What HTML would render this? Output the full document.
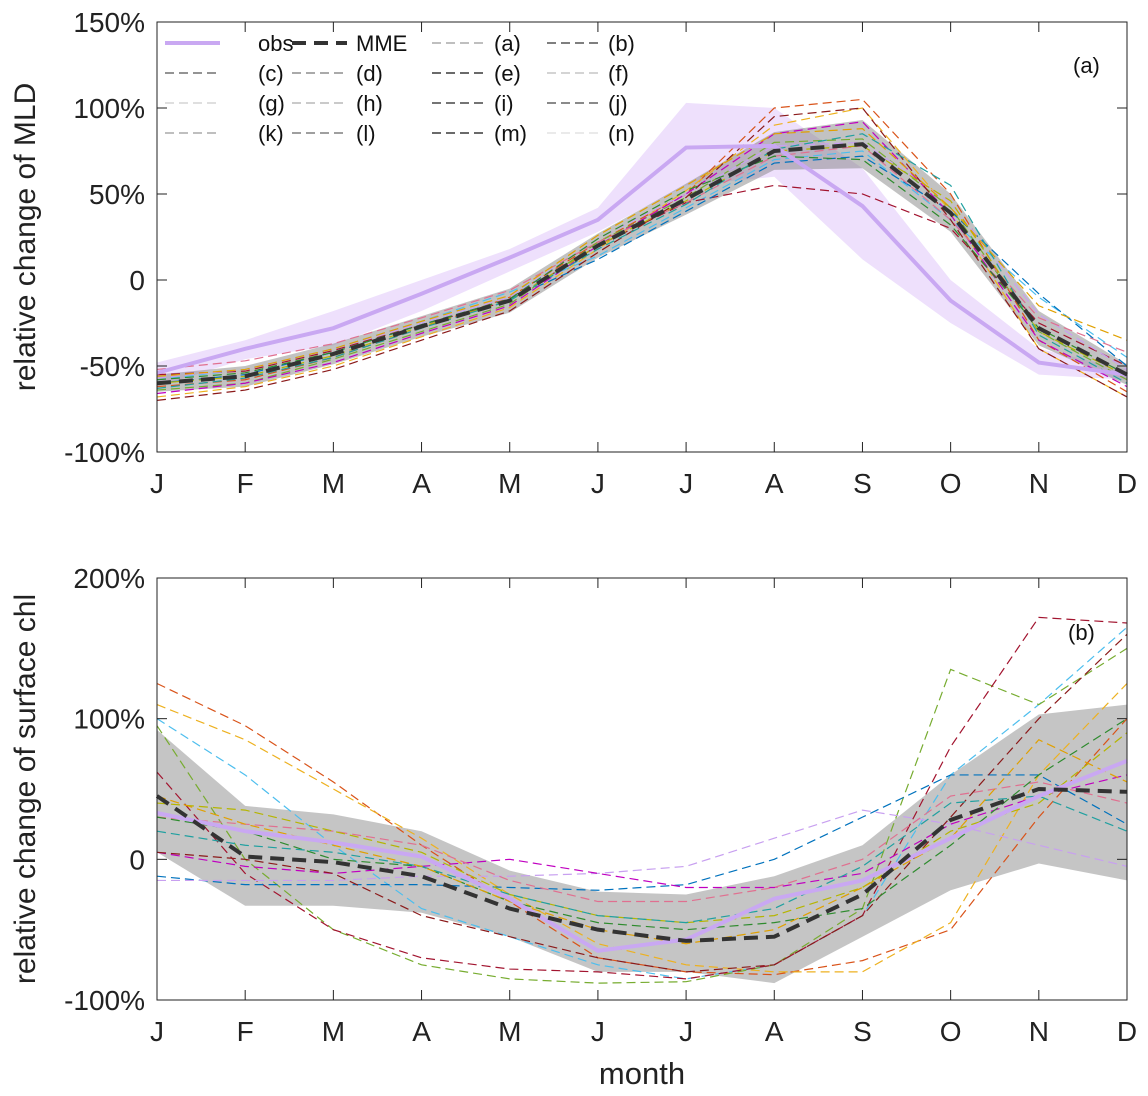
<!DOCTYPE html>
<html><head><meta charset="utf-8">
<style>
html,body{margin:0;padding:0;background:#fff;}
svg{display:block;font-family:"Liberation Sans",sans-serif;}
</style></head>
<body>
<svg id="chart" width="1148" height="1096" viewBox="0 0 1148 1096" xmlns="http://www.w3.org/2000/svg"></svg>
<script>
const months = ["J","F","M","A","M","J","J","A","S","O","N","D"];
// Panel (a) MLD
const obsA = [-54,-40,-28,-8,13,35,77,78,43,-12,-48,-55];
const obsAUpper = [-48,-35,-18,0,18,42,103,100,65,0,-40,-52];
const obsALower = [-62,-46,-38,-18,5,28,55,60,12,-25,-55,-58];
const mmeA = [-60,-56,-43,-27,-12,20,47,75,79,39,-28,-55];
const mmeAUpper = [-55,-50,-37,-21,-5,27,56,86,93,50,-18,-49];
const mmeALower = [-65,-62,-49,-33,-19,13,38,64,65,28,-38,-61];
const modelsA = [
 [-62,-58,-45,-28,-10,22,50,100,105,50,-35,-65],
 [-68,-62,-50,-33,-16,18,52,90,100,40,-40,-68],
 [-58,-52,-40,-24,-7,14,42,70,75,35,-10,-45],
 [-64,-60,-46,-30,-14,22,48,80,82,42,-30,-58],
 [-55,-53,-41,-26,-12,20,45,55,50,30,-25,-50],
 [-60,-55,-42,-26,-11,12,40,68,72,40,-8,-50],
 [-57,-52,-40,-25,-10,24,50,78,80,45,-20,-52],
 [-66,-60,-48,-31,-15,20,50,85,92,38,-35,-62],
 [-52,-47,-37,-22,-6,22,45,72,78,35,-22,-42],
 [-70,-64,-52,-35,-18,16,48,95,100,35,-40,-68],
 [-60,-56,-44,-27,-12,20,46,75,78,46,-30,-56],
 [-58,-54,-42,-26,-11,24,52,72,70,32,-28,-55],
 [-63,-57,-45,-28,-12,18,44,76,85,55,-32,-60],
 [-56,-52,-40,-24,-9,26,55,85,88,42,-15,-35]
];
// Panel (b) surface chl
const obsB = [33,20,12,2,-28,-65,-57,-28,-15,15,45,70];
const obsBUpper = [92,38,32,20,-8,-23,-25,-12,10,60,103,110];
const obsBLower = [5,-33,-33,-38,-55,-80,-80,-88,-55,-22,-3,-15];
const mmeB = [45,2,-2,-12,-35,-50,-58,-55,-25,28,50,48];
const modelsB = [
 [125,95,55,10,-30,-70,-80,-82,-72,-50,30,100],
 [110,85,50,15,-25,-60,-75,-80,-80,-45,60,125],
 [100,60,10,-35,-55,-75,-85,-75,-40,60,110,165],
 [95,0,-50,-75,-85,-88,-87,-75,-35,135,110,150],
 [62,-10,-50,-70,-78,-80,-85,-75,-40,80,172,168],
 [-12,-18,-18,-18,-20,-22,-18,0,30,60,60,25],
 [-15,-15,-15,-12,-12,-10,-5,15,35,25,10,-5],
 [5,-5,-10,-5,0,-10,-20,-20,-10,25,45,60],
 [30,25,20,10,-15,-30,-30,-20,0,45,55,40],
 [5,0,-10,-40,-55,-70,-80,-75,-40,30,100,160],
 [40,35,20,5,-25,-40,-45,-40,-20,20,40,90],
 [30,20,0,-5,-30,-45,-50,-45,-35,10,60,100],
 [20,10,5,-5,-25,-40,-45,-35,-5,40,45,20],
 [45,25,10,-5,-30,-50,-60,-50,-20,15,85,55]
];
const modelLabels = ["(a)","(b)","(c)","(d)","(e)","(f)","(g)","(h)","(i)","(j)","(k)","(l)","(m)","(n)"];
const ticksA = [150,100,50,0,-50,-100];
const ticksALabels = ["150%","100%","50%","0","-50%","-100%"];
const ticksB = [200,100,0,-100];
const ticksBLabels = ["200%","100%","0","-100%"];

const colors = ["#d95319","#edb120","#4dbeee","#77ac30","#a2142f","#0072bd","#c8a0f0","#c000c0","#e07090","#8b1a1a","#b5b500","#2e8b2e","#20a0a0","#e0a000"];
const legendGreys = ["#999","#333","#555","#777","#111","#bbb","#ccc","#aaa","#222","#444","#999","#666","#111","#ddd"];

const svg = document.getElementById('chart');
const NS = "http://www.w3.org/2000/svg";
function mk(tag, attrs, parent){const e=document.createElementNS(NS,tag);for(const k in attrs)e.setAttribute(k,attrs[k]);(parent||svg).appendChild(e);return e;}

const x0=157,x1=1127;
function xs(i){return x0+(x1-x0)*i/11;}
function yA(v){return 22+(150-v)*(430/250);}
function yB(v){return 578+(200-v)*(422/300);}
function pts(arr,ys){return arr.map((v,i)=>xs(i)+","+ys(v)).join(" ");}
function band(up,lo,ys){return up.map((v,i)=>xs(i)+","+ys(v)).concat(lo.map((v,i)=>xs(i)+","+ys(v)).reverse()).join(" ");}

function panel(name, ys, top, bottom, ticks, tlabels, obs, obsU, obsL, mme, mmeU, mmeL, models, bandColor, obsBandColor, ylabel, tag, tagX, tagY){
  const g=mk('g',{});
  
  
  if(obsBandColor){
    const p=mk('polygon',{points:band(obsU,obsL,ys),fill:obsBandColor,stroke:'none'},g);
    
    
  }
  const mb=mk('polygon',{points:band(mmeU,mmeL,ys),fill:bandColor,stroke:'none'},g);
  
  
  models.forEach((m,k)=>{
    const l=mk('polyline',{points:pts(m,ys),fill:'none',stroke:colors[k],'stroke-width':1.2,'stroke-dasharray':'9,5'},g);
    
    
  });
  const o=mk('polyline',{points:pts(obs,ys),fill:'none',stroke:'#c9a8f2','stroke-width':4},g);
  
  
  const mm=mk('polyline',{points:pts(mme,ys),fill:'none',stroke:'#333','stroke-width':4,'stroke-dasharray':'14,8'},g);
  
  
  const box=mk('rect',{x:x0,y:top,width:x1-x0,height:bottom-top,fill:'none',stroke:'#222','stroke-width':1},g);
  
  
  ticks.forEach((t,i)=>{
    const y=ys(t);
    mk('line',{x1:x0,y1:y,x2:x0+10,y2:y,stroke:'#222'},g);
    mk('line',{x1:x1,y1:y,x2:x1-10,y2:y,stroke:'#222'},g);
    const tx=mk('text',{x:x0-12,y:y+10,'text-anchor':'end','font-size':28,fill:'#222'},g);
    tx.textContent=tlabels[i];
    
    
  });
  months.forEach((m,i)=>{
    const x=xs(i);
    mk('line',{x1:x,y1:bottom,x2:x,y2:bottom-10,stroke:'#222'},g);
    mk('line',{x1:x,y1:top,x2:x,y2:top+10,stroke:'#222'},g);
    const tx=mk('text',{x:x,y:bottom+41,'text-anchor':'middle','font-size':28,fill:'#222'},g);
    tx.textContent=m;
    
    
  });
  const yl=mk('text',{x:0,y:0,transform:`translate(35,${(top+bottom)/2}) rotate(-90)`,'text-anchor':'middle','font-size':30,fill:'#222'},g);
  yl.textContent=ylabel;
  
  
  const tg=mk('text',{x:tagX,y:tagY,'font-size':22,fill:'#111'},g);
  tg.textContent=tag;
  
  
}

panel('mld-panel', yA, 22, 452, ticksA, ticksALabels, obsA, obsAUpper, obsALower, mmeA, mmeAUpper, mmeALower, modelsA, 'rgba(120,120,120,0.45)', '#eee0fc', 'relative change of MLD', '(a)', 1073, 73);
panel('chl-panel', yB, 578, 1000, ticksB, ticksBLabels, obsB, obsBUpper, obsBLower, mmeB, obsBUpper, obsBLower, modelsB, 'rgba(150,150,150,0.55)', null, 'relative change of surface chl', '(b)', 1068, 640);

const xt=mk('text',{x:642,y:1084,'text-anchor':'middle','font-size':31,fill:'#222'});
xt.textContent='month';



// legend
const lg=mk('g',{});


const entries=[{t:'obs',c:'#c9a8f2',w:4,d:'none'},{t:'MME',c:'#333',w:4,d:'14,8'}].concat(modelLabels.map((t,k)=>({t:t,c:legendGreys[k],w:1.2,d:'9,5'})));
const colX=[165,292,432,547];
const txtX=[258,356,494,608];
entries.forEach((e,i)=>{
  const r=Math.floor(i/4), c=i%4;
  const lx=colX[c], y=43+r*30;
  mk('line',{x1:lx,y1:y,x2:lx+55,y2:y,stroke:e.c,'stroke-width':e.w,'stroke-dasharray':e.d},lg);
  const t=mk('text',{x:txtX[c],y:y+8,'font-size':22,fill:'#111'},lg);
  t.textContent=e.t;
  
  
});
</script>
</body></html>
